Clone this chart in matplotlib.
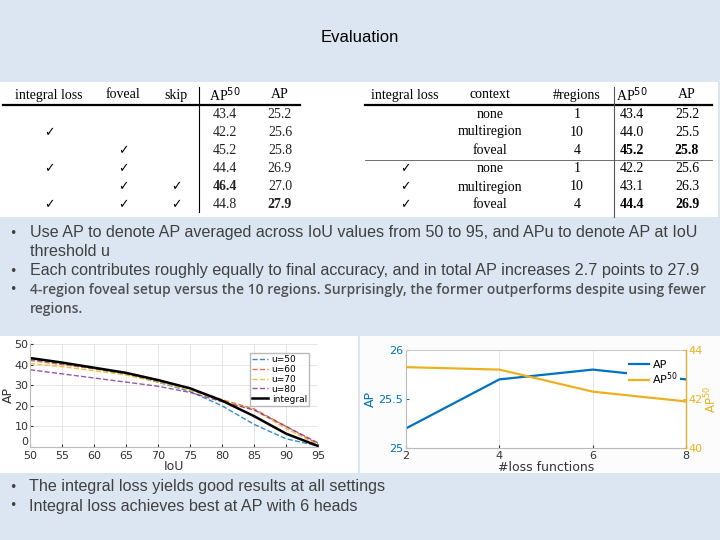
import matplotlib.pyplot as plt
from matplotlib.patches import Rectangle

# ---- data ----
left_head = ['integral loss', 'foveal', 'skip', 'AP$^{50}$', 'AP']
left_integral = [0, 1, 0, 1, 0, 1]
left_foveal = [0, 0, 1, 1, 1, 1]
left_skip = [0, 0, 0, 0, 1, 1]
left_ap50 = ['43.4', '42.2', '45.2', '44.4', '46.4', '44.8']
left_ap = ['25.2', '25.6', '25.8', '26.9', '27.0', '27.9']
left_bold_ap50 = [0, 0, 0, 0, 1, 0]
left_bold_ap = [0, 0, 0, 0, 0, 1]

right_head = ['integral loss', 'context', '#regions', 'AP$^{50}$', 'AP']
right_integral = [0, 0, 0, 1, 1, 1]
right_context = ['none', 'multiregion', 'foveal', 'none', 'multiregion', 'foveal']
right_regions = ['1', '10', '4', '1', '10', '4']
right_ap50 = ['43.4', '44.0', '45.2', '42.2', '43.1', '44.4']
right_ap = ['25.2', '25.5', '25.8', '25.6', '26.3', '26.9']
right_bold = [0, 0, 1, 0, 0, 1]

iou = [50, 55, 60, 65, 70, 75, 80, 85, 90, 95]
ap_u50 = [42.5, 40.5, 38.0, 35.5, 31.5, 27.0, 20.0, 11.0, 4.0, 0.5]
ap_u60 = [42.0, 40.0, 38.0, 35.5, 32.0, 28.5, 23.0, 18.5, 10.0, 1.5]
ap_u70 = [40.5, 39.0, 37.0, 35.0, 31.5, 27.5, 22.5, 18.0, 9.0, 1.0]
ap_u80 = [37.5, 35.5, 33.5, 31.5, 29.5, 26.5, 22.0, 18.0, 10.0, 2.0]
ap_integral = [43.2, 41.0, 38.5, 36.0, 32.5, 28.5, 22.5, 15.0, 6.5, 0.5]

n_loss = [2, 4, 6, 7, 8]
ap_loss = [25.2, 25.7, 25.8, 25.75, 25.7]
n_loss50 = [2, 4, 6, 7, 8]
ap50_loss = [43.3, 43.2, 42.3, 42.1, 41.9]

bullets_top = [
    'Use AP to denote AP averaged across IoU values from 50 to 95, and APu to denote AP at IoU',
    'Each contributes roughly equally to final accuracy, and in total AP increases 2.7 points to 27.9',
]
bullet_third = '4-region foveal setup versus the 10 regions. Surprisingly, the former outperforms despite using fewer'
bullets_bottom = ['The integral loss yields good results at all settings',
                  'Integral loss achieves best at AP with 6 heads']

BG = '#dce6f2'
BLUE = '#0072bd'
ORANGE = '#d95319'
YELLOW = '#edb120'
PURPLE = '#7e2f8e'
SERIF = ['Liberation Serif', 'DejaVu Sans']
TXT = '#404040'

fig = plt.figure(figsize=(7.2, 5.4), dpi=100)
fig.patch.set_facecolor(BG)


def px_axes(x0, y0, x1, y1, **kw):
    return fig.add_axes([x0 / 720, 1 - y1 / 540, (x1 - x0) / 720, (y1 - y0) / 540], **kw)


# overlay in pixel coordinates
bg = px_axes(0, 0, 720, 540)
bg.set_xlim(0, 720)
bg.set_ylim(540, 0)
bg.axis('off')

bg.add_patch(Rectangle((0, 82), 718, 135, facecolor='white', edgecolor='none'))
bg.add_patch(Rectangle((0, 336), 358, 137, facecolor='white', edgecolor='none'))
bg.add_patch(Rectangle((360, 336), 360, 137, facecolor='#fcfcfc', edgecolor='none'))

bg.text(360, 38, 'Evaluation', ha='center', va='center', fontsize=12, color='black',
        family='Liberation Sans')

# ---- left table ----
FS = 10
rows_y = [114, 133, 151, 169, 187, 205]
hx = [49, 123, 176, 225, 280]
for x, h in zip(hx, left_head):
    bg.text(x, 95, h, ha='center', va='center', fontsize=FS, family=SERIF)
bg.plot([3, 300], [105, 105], color='black', lw=1.6)
bg.plot([199, 199], [87, 212], color='black', lw=0.8)
for i, y in enumerate(rows_y):
    for col, flags in ((0, left_integral), (1, left_foveal), (2, left_skip)):
        if flags[i]:
            bg.text(hx[col], y, '\u2713', ha='center', va='center', fontsize=9, family=SERIF)
    bg.text(hx[3], y, left_ap50[i], ha='center', va='center', fontsize=FS, family=SERIF,
            weight='bold' if left_bold_ap50[i] else 'normal', color='#222222')
    bg.text(hx[4], y, left_ap[i], ha='center', va='center', fontsize=FS, family=SERIF,
            weight='bold' if left_bold_ap[i] else 'normal', color='#222222')

# ---- right table ----
rows_y2 = [114, 132, 150, 169, 187, 205]
hx2 = [405, 490, 577, 632, 687]
for x, h in zip(hx2, right_head):
    bg.text(x, 95, h, ha='center', va='center', fontsize=FS, family=SERIF)
bg.plot([365, 712], [105, 105], color='black', lw=1.6)
bg.plot([365, 712], [160, 160], color='#555555', lw=0.6)
bg.plot([614, 614], [87, 217], color='#555555', lw=0.8)
for i, y in enumerate(rows_y2):
    if right_integral[i]:
        bg.text(hx2[0], y, '\u2713', ha='center', va='center', fontsize=9, family=SERIF)
    bg.text(hx2[1], y, right_context[i], ha='center', va='center', fontsize=FS, family=SERIF)
    bg.text(hx2[2], y, right_regions[i], ha='center', va='center', fontsize=FS, family=SERIF)
    w = 'bold' if right_bold[i] else 'normal'
    bg.text(hx2[3], y, right_ap50[i], ha='center', va='center', fontsize=FS, family=SERIF, weight=w)
    bg.text(hx2[4], y, right_ap[i], ha='center', va='center', fontsize=FS, family=SERIF, weight=w)

# ---- bullets ----
for y in (233, 271, 290):
    bg.text(9, y, '\u2022', ha='left', va='center', fontsize=9, color=TXT)
bg.text(30, 233, bullets_top[0], ha='left', va='center', fontsize=11.6, color=TXT,
        family='Liberation Sans')
bg.text(30, 252, 'threshold u', ha='left', va='center', fontsize=11.6, color=TXT,
        family='Liberation Sans')
bg.text(30, 271, bullets_top[1], ha='left', va='center', fontsize=11.6, color=TXT,
        family='Liberation Sans')
bg.text(30, 290, bullet_third, ha='left', va='center', fontsize=10, color='#505050',
        family='Open Sans', weight='semibold')
bg.text(30, 309, 'regions.', ha='left', va='center', fontsize=10, color='#505050',
        family='Open Sans', weight='semibold')

for y, t in zip((487, 506), bullets_bottom):
    bg.text(9, y, '\u2022', ha='left', va='center', fontsize=9, color=TXT)
    bg.text(29, y, t, ha='left', va='center', fontsize=11.6, color=TXT, family='Liberation Sans')

# ---- left chart ----
ax1 = px_axes(30, 344, 318, 447)
ax1.set_facecolor('white')
ax1.plot(iou, ap_u50, '--', color=BLUE, lw=1, alpha=0.8, label='u=50')
ax1.plot(iou, ap_u60, '--', color=ORANGE, lw=1, alpha=0.8, label='u=60')
ax1.plot(iou, ap_u70, '--', color=YELLOW, lw=1, alpha=0.8, label='u=70')
ax1.plot(iou, ap_u80, '--', color=PURPLE, lw=1, alpha=0.8, label='u=80')
ax1.plot(iou, ap_integral, '-', color='black', lw=1.8, label='integral')
ax1.set_xlim(50, 95)
ax1.set_ylim(0, 50)
ax1.set_xticks(range(50, 96, 5))
ax1.set_yticks(range(0, 51, 10))
ax1.set_yticklabels([str(v) for v in range(0, 51, 10)])
ax1.get_yticklabels()[0].set_va('bottom')
ax1.grid(True, color='#e6e6e6', lw=0.7)
ax1.set_axisbelow(True)
for s in ('top', 'right'):
    ax1.spines[s].set_visible(False)
for s in ('left', 'bottom'):
    ax1.spines[s].set_color('#bbbbbb')
ax1.tick_params(direction='in', length=2, labelsize=8, colors='#333333', pad=3)
ax1.tick_params(axis='y', pad=1)
ax1.set_xlabel('IoU', fontsize=9, color='#333333', labelpad=-1)
ax1.set_ylabel('AP', fontsize=9, color='#333333', labelpad=0)
ax1.legend(loc='upper right', fontsize=6.5, frameon=True, fancybox=False, edgecolor='#aaaaaa',
           handlelength=1.8, borderpad=0.25, labelspacing=0.1, handletextpad=0.4,
           bbox_to_anchor=(0.985, 0.96))

# ---- right chart ----
ax2 = px_axes(406, 350, 686, 448)
ax2.set_facecolor('white')
l1, = ax2.plot(n_loss, ap_loss, color=BLUE, lw=1.6, label='AP')
ax2.set_xlim(2, 8)
ax2.set_ylim(25, 26)
ax2.set_xticks([2, 4, 6, 8])
ax2.set_yticks([25, 25.5, 26])
ax2.set_yticklabels(['25', '25.5', '26'])
ax2.grid(True, axis='x', color='#e6e6e6', lw=0.7)
ax2.tick_params(direction='in', length=2, labelsize=8, pad=2)
ax2.tick_params(axis='y', colors=BLUE)
ax2.tick_params(axis='x', colors='#333333')
ax2.spines['left'].set_color('#bbbbbb')
ax2.spines['bottom'].set_color('#bbbbbb')
ax2.spines['top'].set_color('#cccccc')
ax2.set_ylabel('AP', fontsize=9, color=BLUE, labelpad=1)
ax2.set_xlabel('#loss functions', fontsize=9, color='#333333', labelpad=0)

ax3 = ax2.twinx()
l2, = ax3.plot(n_loss50, ap50_loss, color=YELLOW, lw=1.6, label='AP$^{50}$')
ax3.set_ylim(40, 44)
ax3.set_yticks([40, 42, 44])
ax3.tick_params(direction='in', length=2, labelsize=8, colors=YELLOW, pad=2)
ax3.spines['right'].set_color(YELLOW)
for s in ('left', 'top', 'bottom'):
    ax3.spines[s].set_visible(False)
ax3.set_ylabel('AP$^{50}$', fontsize=8.5, color=YELLOW, labelpad=0)
ax3.legend([l1, l2], ['AP', 'AP$^{50}$'], loc='upper right', fontsize=8, frameon=True,
           edgecolor='none', facecolor='white', framealpha=1, fancybox=False,
           handlelength=1.8, borderpad=0.2, labelspacing=0.05, handletextpad=0.3,
           bbox_to_anchor=(1.0, 0.98))

fig.savefig('out.png', dpi=100, facecolor=fig.get_facecolor())
